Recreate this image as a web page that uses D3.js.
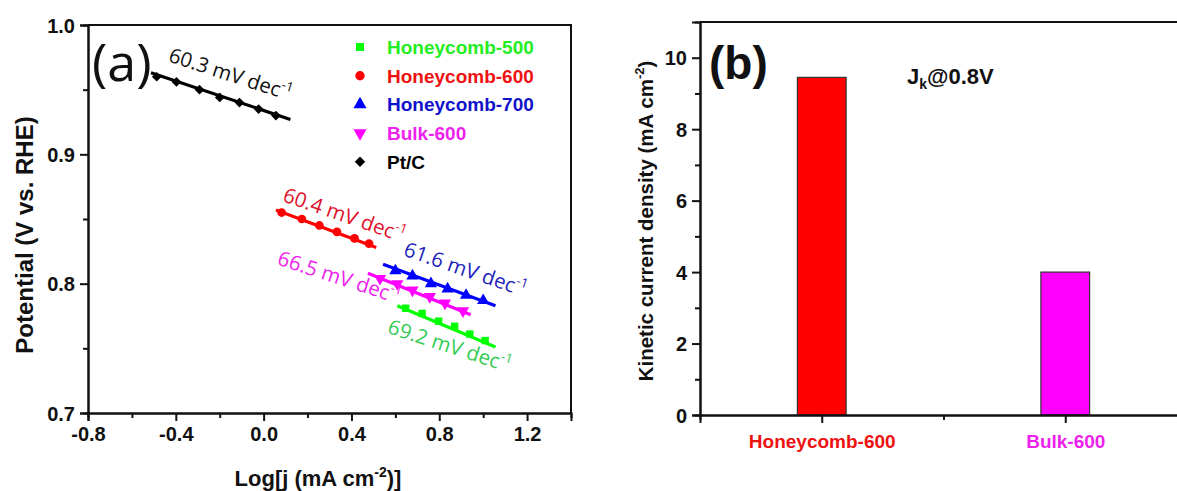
<!DOCTYPE html>
<html>
<head>
<meta charset="utf-8">
<script src="https://cdn.jsdelivr.net/npm/d3@7"></script>
<style>
  html, body { margin: 0; padding: 0; background: #fff; }
  svg { display: block; }
  .bold { font-family: "Liberation Sans", Arial, sans-serif; font-weight: bold; }
  .note { font-family: "Open Sans", "DejaVu Sans", sans-serif; }
</style>
</head>
<body>
<svg id="chart"></svg>
<script>
// ---- data: panel (a), Tafel plots ----
const seriesNames = ["Honeycomb-500", "Honeycomb-600", "Honeycomb-700", "Bulk-600", "Pt/C"]
const tafelSlopes = ["69.2", "60.4", "61.6", "66.5", "60.3"]

const hc500X = [0.647, 0.722, 0.797, 0.870, 0.939, 1.009]
const hc500Y = [0.781, 0.777, 0.771, 0.767, 0.761, 0.756]
const hc600X = [0.082, 0.174, 0.254, 0.334, 0.414, 0.480]
const hc600Y = [0.855, 0.850, 0.845, 0.840, 0.835, 0.831]
const hc700X = [0.600, 0.678, 0.762, 0.838, 0.922, 1.000]
const hc700Y = [0.810, 0.806, 0.800, 0.796, 0.791, 0.787]
const bulkX = [0.530, 0.609, 0.678, 0.757, 0.826, 0.908]
const bulkY = [0.804, 0.800, 0.795, 0.790, 0.785, 0.779]
const ptcX = [-0.487, -0.397, -0.292, -0.200, -0.110, -0.023, 0.056]
const ptcY = [0.960, 0.956, 0.950, 0.944, 0.940, 0.935, 0.930]

// linear fit ends, [x0, y0, x1, y1]
const fitLines = [
  [0.609, 0.783, 1.056, 0.751],
  [0.056, 0.857, 0.513, 0.828],
  [0.544, 0.815, 1.056, 0.783],
  [0.475, 0.808, 0.943, 0.776],
  [-0.513, 0.963, 0.122, 0.927]
]

const xTicksA = [-0.8, -0.4, 0.0, 0.4, 0.8, 1.2]
const xMinorA = [-0.6, -0.2, 0.2, 0.6, 1.0]
const yTicksA = [0.7, 0.8, 0.9, 1.0]
const yMinorA = [0.75, 0.85, 0.95]

// ---- data: panel (b), kinetic current ----
const samplesB = ["Honeycomb-600", "Bulk-600"]
const jkValues = [9.45, 4.0]
const yTicksB = [0, 2, 4, 6, 8, 10]
const yMinorB = [1, 3, 5, 7, 9]

// ---- styles ----
const markColors = ["#00ff00", "#ff0000", "#0000ff", "#ff00ff", "#000000"]
const textColors = ["#22ee22", "#ee1111", "#1111cc", "#ee22ee", "#000000"]
const noteColors = ["#33cc55", "#e0102a", "#2222bb", "#ee22ee", "#111111"]
const symbols = [d3.symbolSquare, d3.symbolCircle, d3.symbolTriangle, d3.symbolTriangle, d3.symbolDiamond2]
const symbolRot = [0, 0, 0, 180, 0]
const symbolSize = [55, 60, 65, 65, 60]

// where each slope note sits (data coords) and its tilt
const notePos = [[0.560, 0.762, 18], [0.082, 0.864, 19], [0.633, 0.822, 19], [0.058, 0.815, 18], [-0.438, 0.972, 18]]

const width = 1177
const height = 491
const svg = d3.select("#chart").attr("width", width).attr("height", height)

const seriesData = [
  d3.zip(hc500X, hc500Y), d3.zip(hc600X, hc600Y), d3.zip(hc700X, hc700Y),
  d3.zip(bulkX, bulkY), d3.zip(ptcX, ptcY)
]

renderPanelA()
renderPanelB()

function styleAxis(g, size) {
  g.select(".domain").attr("stroke", "#111").attr("stroke-width", 2)
  g.selectAll(".tick line").attr("stroke", "#111").attr("stroke-width", 2)
  g.selectAll(".tick text")
    .attr("class", "bold")
    .attr("font-size", size)
    .attr("fill", "#111")
}

function renderPanelA() {
  const x = d3.scaleLinear().domain([-0.8, 1.4]).range([88, 571])
  const y = d3.scaleLinear().domain([0.7, 1.0]).range([413, 25])
  const g = svg.append("g")
  const fmt = d => d.toFixed(1) // plain hyphen minus, like the original

  // frame top and right
  g.append("path")
    .attr("d", `M${x(-0.8)},${y(1.0)}H${x(1.4)}V${y(0.7)}`)
    .attr("fill", "none").attr("stroke", "#111").attr("stroke-width", 2)

  g.append("g")
    .attr("transform", `translate(0,${y(0.7)})`)
    .call(d3.axisBottom(x).tickValues(xMinorA).tickSize(5).tickFormat(""))
    .call(a => styleAxis(a, 20))
  g.append("g")
    .attr("transform", `translate(0,${y(0.7)})`)
    .call(d3.axisBottom(x).tickValues(xTicksA).tickSize(8).tickPadding(6).tickFormat(fmt))
    .call(a => styleAxis(a, 20))
  g.append("g")
    .attr("transform", `translate(${x(-0.8)},0)`)
    .call(d3.axisLeft(y).tickValues(yMinorA).tickSize(5).tickFormat(""))
    .call(a => styleAxis(a, 20))
  g.append("g")
    .attr("transform", `translate(${x(-0.8)},0)`)
    .call(d3.axisLeft(y).tickValues(yTicksA).tickSize(8).tickPadding(5).tickFormat(fmt))
    .call(a => styleAxis(a, 20))
    .call(a => a.selectAll(".tick text").attr("dy", "0.36em"))

  // axis titles
  const xt = g.append("text").attr("class", "bold")
    .attr("x", 318).attr("y", 486)
    .attr("text-anchor", "middle").attr("font-size", 22).attr("fill", "#111")
  xt.append("tspan").text("Log[j (mA cm")
  xt.append("tspan").attr("font-size", 14).attr("dy", -9).text("-2")
  xt.append("tspan").attr("dy", 9).text(")]")

  g.append("text").attr("class", "bold")
    .attr("transform", `translate(33,235) rotate(-90)`)
    .attr("text-anchor", "middle").attr("font-size", 24).attr("fill", "#111")
    .text("Potential (V vs. RHE)")

  g.append("text").attr("class", "note")
    .attr("x", 92).attr("y", 81)
    .attr("font-size", 52).attr("fill", "#111")
    .text("(a)")

  // fit lines
  g.selectAll(".fit")
    .data(fitLines)
    .join("line")
    .attr("x1", d => x(d[0])).attr("y1", d => y(d[1]))
    .attr("x2", d => x(d[2])).attr("y2", d => y(d[3]))
    .attr("stroke", (d, i) => markColors[i])
    .attr("stroke-width", 3.2)

  // markers
  seriesData.forEach((pts, i) => {
    g.append("g")
      .selectAll("path")
      .data(pts)
      .join("path")
      .attr("d", d3.symbol(symbols[i], symbolSize[i]))
      .attr("transform", d => `translate(${x(d[0])},${y(d[1])}) rotate(${symbolRot[i]})`)
      .attr("fill", markColors[i])
  })

  // slope notes
  tafelSlopes.forEach((s, i) => {
    const [nx, ny, ang] = notePos[i]
    const t = g.append("text").attr("class", "note")
      .attr("transform", `translate(${x(nx)},${y(ny)}) rotate(${ang})`)
      .attr("font-size", 20.5).attr("fill", noteColors[i])
    t.append("tspan").text(`${s} mV dec`)
    t.append("tspan").attr("font-size", 13).attr("dy", -9).text("-1")
  })

  // legend
  const legend = g.append("g")
  seriesNames.forEach((name, i) => {
    const ly = 47 + i * 28.7
    legend.append("path")
      .attr("d", d3.symbol(symbols[i], symbolSize[i] * 1.15))
      .attr("transform", `translate(360,${ly}) rotate(${symbolRot[i]})`)
      .attr("fill", markColors[i])
    legend.append("text").attr("class", "bold")
      .attr("x", 387).attr("y", ly + 7)
      .attr("font-size", 19).attr("fill", textColors[i])
      .text(name)
  })
}

function renderPanelB() {
  const x = d3.scaleLinear().domain([0.5, 2.5]).range([700, 1187])
  const y = d3.scaleLinear().domain([0, 11]).range([415, 22])
  const g = svg.append("g")

  g.append("path")
    .attr("d", `M${x(0.5)},${y(11)}H${x(2.5)}`)
    .attr("fill", "none").attr("stroke", "#111").attr("stroke-width", 2)

  // bars
  g.selectAll(".bar")
    .data(jkValues)
    .join("rect")
    .attr("x", (d, i) => x(i + 1 - 0.1))
    .attr("width", x(1.1) - x(0.9))
    .attr("y", d => y(d))
    .attr("height", d => y(0) - y(d))
    .attr("fill", (d, i) => i === 0 ? "#ff0000" : "#ff00ff")
    .attr("stroke", "#333").attr("stroke-width", 1.2)

  g.append("g")
    .attr("transform", `translate(0,${y(0)})`)
    .call(d3.axisBottom(x).tickValues([1.5]).tickSize(5).tickFormat(""))
    .call(a => styleAxis(a, 20))
  g.append("g")
    .attr("transform", `translate(0,${y(0)})`)
    .call(d3.axisBottom(x).tickValues([1, 2]).tickSize(8).tickPadding(12).tickFormat((d, i) => samplesB[i]))
    .call(a => styleAxis(a, 19))
    .call(a => a.selectAll(".tick text").attr("fill", (d, i) => i === 0 ? "#ee1111" : "#ee22ee"))
  g.append("g")
    .attr("transform", `translate(${x(0.5)},0)`)
    .call(d3.axisLeft(y).tickValues(yMinorB).tickSize(5).tickFormat(""))
    .call(a => styleAxis(a, 20))
  g.append("g")
    .attr("transform", `translate(${x(0.5)},0)`)
    .call(d3.axisLeft(y).tickValues(yTicksB).tickSize(8).tickPadding(5))
    .call(a => styleAxis(a, 20))
    .call(a => a.selectAll(".tick text").attr("dy", "0.36em"))

  const yt = g.append("text").attr("class", "bold")
    .attr("transform", `translate(653,221) rotate(-90)`)
    .attr("text-anchor", "middle").attr("font-size", 20.5).attr("fill", "#111")
  yt.append("tspan").text("Kinetic current density (mA cm")
  yt.append("tspan").attr("font-size", 13).attr("dy", -9).text("-2")
  yt.append("tspan").attr("dy", 9).text(")")

  g.append("text").attr("class", "bold")
    .attr("x", 709).attr("y", 79)
    .attr("font-size", 46).attr("fill", "#111")
    .text("(b)")

  const jk = g.append("text").attr("class", "bold")
    .attr("x", 907).attr("y", 84)
    .attr("font-size", 22).attr("fill", "#111")
  jk.append("tspan").text("J")
  jk.append("tspan").attr("font-size", 14).attr("dy", 5).text("k")
  jk.append("tspan").attr("dy", -5).text("@0.8V")
}
</script>
</body>
</html>
